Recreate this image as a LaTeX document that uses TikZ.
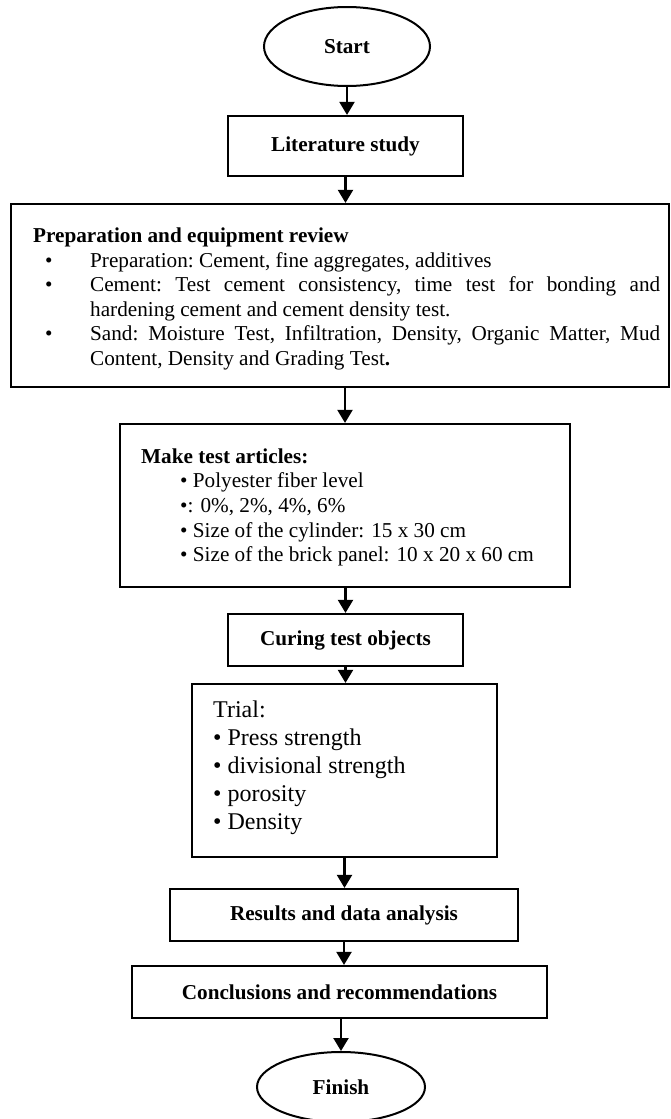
\documentclass[tikz,border=0pt]{standalone}
\usepackage{fontspec}
\setmainfont{Liberation Serif}
\usetikzlibrary{arrows.meta,shapes.geometric}
\begin{document}
\begin{tikzpicture}[x=1pt,y=-1pt,
  box/.style={draw, line width=2.2pt, rectangle, inner sep=0pt},
  term/.style={draw, line width=2pt, ellipse, inner sep=0pt},
  arr/.style={line width=2.2pt, -{Triangle[width=15pt,length=13pt]}},
  btext/.style={font=\fontsize{21.2}{25}\selectfont\bfseries},
  rtext/.style={inner sep=0pt, align=left},
]
\useasboundingbox (0,0) rectangle (670,1119);
% nodes
\node[term, minimum width=166pt, minimum height=79pt, btext] (start) at (347,46.5) {Start};
\node[box, minimum width=235pt, minimum height=60pt, btext] (lit) at (345.5,146) {Literature study};
\node[box, minimum width=658pt, minimum height=183pt] (prep) at (340,295.5) {};
\node[rtext, anchor=base west, text width=627pt, font=\fontsize{21.2}{24.5}\selectfont] (preptxt) at (33,242.5) {%
\spaceskip=0pt\xspaceskip=0pt\frenchspacing
\textbf{Preparation and equipment review}\\
\hspace*{12pt}\makebox[45pt][l]{\textbullet}Preparation: Cement, fine aggregates, additives\\
\hspace*{12pt}\makebox[45pt][l]{\textbullet}\makebox[570pt][s]{Cement: Test cement consistency, time test for bonding and}\\
\hspace*{57pt}hardening cement and cement density test.\\
\hspace*{12pt}\makebox[45pt][l]{\textbullet}\makebox[570pt][s]{Sand: Moisture Test, Infiltration, Density, Organic Matter, Mud}\\
\hspace*{57pt}Content, Density and Grading Test\textbf{.}};
\node[box, minimum width=450pt, minimum height=163pt] (make) at (345,505.5) {};
\node[rtext, anchor=base west, font=\fontsize{21.2}{24.7}\selectfont] (maketxt) at (141,561.8) {%
\textbf{Make test articles:}\\
\hspace*{39pt}\textbullet{} Polyester fiber level\\
\hspace*{39pt}\textbullet: 0\%, 2\%, 4\%, 6\%\\
\hspace*{39pt}\textbullet{} Size of the cylinder: 15 x 30 cm\\
\hspace*{39pt}\textbullet{} Size of the brick panel: 10 x 20 x 60 cm};
\node[box, minimum width=235pt, minimum height=52pt, btext] (cur) at (345.5,640) {Curing test objects};
\node[box, minimum width=305pt, minimum height=173pt] (trial) at (344.5,770.5) {};
\node[rtext, anchor=base west, font=\fontsize{24}{28}\selectfont] (trialtxt) at (213,829) {%
Trial:\\
\textbullet{} Press strength\\
\textbullet{} divisional strength\\
\textbullet{} porosity\\
\textbullet{} Density};
\node[box, minimum width=348pt, minimum height=52pt, btext] (res) at (344,915) {Results and data analysis};
\node[box, minimum width=415pt, minimum height=52pt, btext] (conc) at (339.5,992) {Conclusions and recommendations};
\node[term, minimum width=168pt, minimum height=70pt, btext] (fin) at (341,1087) {Finish};
% connectors
\draw[arr] (start.south) -- (start.south |- lit.north);
\draw[arr] (lit.south) -- (lit.south |- prep.north);
\draw[arr] (make.north |- prep.south) -- (make.north);
\draw[arr] (cur.north |- make.south) -- (cur.north);
\draw[arr] (cur.south) -- (cur.south |- trial.north);
\draw[arr] (trial.south) -- (trial.south |- res.north);
\draw[arr] (res.south) -- (res.south |- conc.north);
\draw[arr] (fin.north |- conc.south) -- (fin.north);
\end{tikzpicture}
\end{document}
